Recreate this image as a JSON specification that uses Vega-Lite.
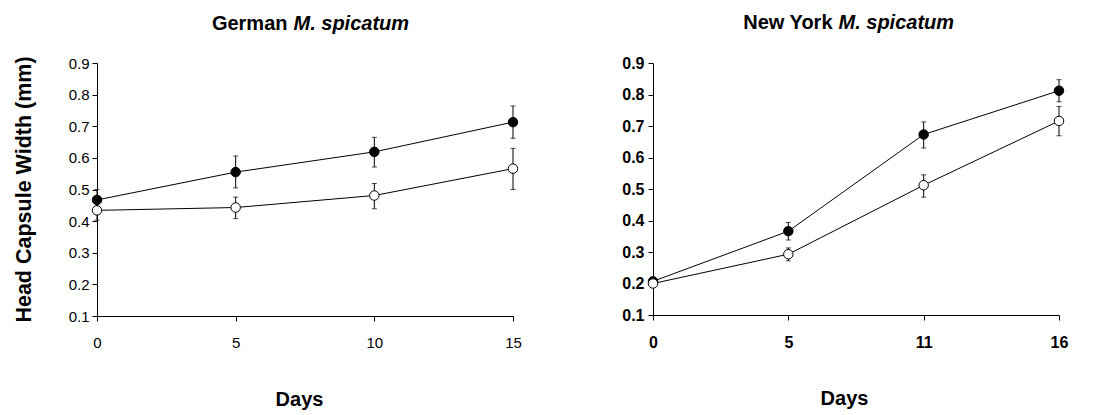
{
  "$schema": "https://vega.github.io/schema/vega-lite/v6.json",
  "padding": {"left": 12, "top": 12, "right": 5, "bottom": 5},
  "background": "white",
  "config": {
    "font": "Liberation Sans",
    "view": {"stroke": null},
    "axis": {
      "grid": false,
      "domainColor": "black",
      "tickColor": "black",
      "labelColor": "black",
      "titleColor": "black",
      "labelFont": "Liberation Sans",
      "titleFont": "Liberation Sans",
      "titleFontWeight": "bold",
      "tickSize": 5,
      "domainWidth": 1,
      "tickWidth": 1
    }
  },
  "datasets": {
    "german": [
      {"day": 0, "series": "Series 1", "mean": 0.467, "lo": 0.435, "hi": 0.500},
      {"day": 5, "series": "Series 1", "mean": 0.555, "lo": 0.505, "hi": 0.606},
      {"day": 10, "series": "Series 1", "mean": 0.619, "lo": 0.571, "hi": 0.665},
      {"day": 15, "series": "Series 1", "mean": 0.713, "lo": 0.662, "hi": 0.764},
      {"day": 0, "series": "Series 2", "mean": 0.434, "lo": 0.403, "hi": 0.465},
      {"day": 5, "series": "Series 2", "mean": 0.443, "lo": 0.408, "hi": 0.476},
      {"day": 10, "series": "Series 2", "mean": 0.481, "lo": 0.439, "hi": 0.519},
      {"day": 15, "series": "Series 2", "mean": 0.566, "lo": 0.500, "hi": 0.630}
    ],
    "newyork": [
      {"day": 0, "series": "Series 1", "mean": 0.207, "lo": 0.200, "hi": 0.214},
      {"day": 5, "series": "Series 1", "mean": 0.366, "lo": 0.338, "hi": 0.394},
      {"day": 11, "series": "Series 1", "mean": 0.673, "lo": 0.630, "hi": 0.713},
      {"day": 16, "series": "Series 1", "mean": 0.812, "lo": 0.777, "hi": 0.847},
      {"day": 0, "series": "Series 2", "mean": 0.200, "lo": 0.192, "hi": 0.208},
      {"day": 5, "series": "Series 2", "mean": 0.293, "lo": 0.272, "hi": 0.313},
      {"day": 11, "series": "Series 2", "mean": 0.512, "lo": 0.474, "hi": 0.545},
      {"day": 16, "series": "Series 2", "mean": 0.716, "lo": 0.669, "hi": 0.762}
    ]
  },
  "spacing": 140,
  "bounds": "flush",
  "hconcat": [
    {
      "width": 416,
      "height": 253,
      "data": {"name": "german"},
      "resolve": {"axis": {"x": "independent", "y": "independent"}},
      "layer": [
        {
          "mark": {"type": "line", "color": "black", "strokeWidth": 1},
          "encoding": {
            "x": {"field": "day", "type": "ordinal", "scale": {"type": "point", "padding": 0},
              "axis": {"orient": "bottom", "labelAngle": 0, "labelFontSize": 15, "labelPadding": 14, "title": "Days", "titleFontSize": 20, "titlePadding": 39, "titleX": 202}},
            "y": {"field": "mean", "type": "quantitative", "scale": {"domain": [0.1, 0.9], "nice": false, "zero": false},
              "axis": {"orient": "left", "values": [0.1, 0.2, 0.3, 0.4, 0.5, 0.6, 0.7, 0.8, 0.9], "format": ".1f", "labelFontSize": 15, "labelPadding": 3, "title": "Head Capsule Width (mm)", "titleFontSize": 21.5, "titleX": -73, "titleY": 126, "titleBaseline": "middle"}},
            "detail": {"field": "series"}
          }
        },
        {
          "mark": {"type": "errorbar", "color": "black", "ticks": {"size": 5, "color": "black"}, "rule": {"strokeWidth": 1}},
          "encoding": {
            "x": {"field": "day", "type": "ordinal", "axis": null},
            "y": {"field": "lo", "type": "quantitative", "axis": null},
            "y2": {"field": "hi"}
          }
        },
        {
          "transform": [{"filter": "datum.series === 'Series 1'"}],
          "mark": {"type": "circle", "fill": "black", "stroke": "black", "strokeWidth": 1, "size": 90, "opacity": 1},
          "encoding": {
            "x": {"field": "day", "type": "ordinal",
              "axis": {"orient": "top", "labels": false, "ticks": false, "domain": false, "title": "German", "titleFontSize": 20, "titleAlign": "right", "titleBaseline": "alphabetic", "titleX": 190, "titleY": -34}},
            "y": {"field": "mean", "type": "quantitative", "axis": null}
          }
        },
        {
          "transform": [{"filter": "datum.series === 'Series 2'"}],
          "mark": {"type": "circle", "fill": "white", "stroke": "black", "strokeWidth": 1, "size": 90, "opacity": 1},
          "encoding": {
            "x": {"field": "day", "type": "ordinal",
              "axis": {"orient": "top", "labels": false, "ticks": false, "domain": false, "title": "M. spicatum", "titleFontSize": 20, "titleFontStyle": "italic", "titleAlign": "left", "titleBaseline": "alphabetic", "titleX": 196, "titleY": -34}},
            "y": {"field": "mean", "type": "quantitative", "axis": null}
          }
        }
      ]
    },
    {
      "width": 406,
      "height": 252,
      "data": {"name": "newyork"},
      "resolve": {"axis": {"x": "independent", "y": "independent"}},
      "layer": [
        {
          "mark": {"type": "line", "color": "black", "strokeWidth": 1},
          "encoding": {
            "x": {"field": "day", "type": "ordinal", "scale": {"type": "point", "padding": 0},
              "axis": {"orient": "bottom", "labelAngle": 0, "labelFontSize": 16, "labelFontWeight": "bold", "labelPadding": 14, "title": "Days", "titleFontSize": 20, "titlePadding": 38, "titleX": 191}},
            "y": {"field": "mean", "type": "quantitative", "scale": {"domain": [0.1, 0.9], "nice": false, "zero": false},
              "axis": {"orient": "left", "values": [0.1, 0.2, 0.3, 0.4, 0.5, 0.6, 0.7, 0.8, 0.9], "format": ".1f", "labelFontSize": 16, "labelFontWeight": "bold", "labelPadding": 4, "title": null}},
            "detail": {"field": "series"}
          }
        },
        {
          "mark": {"type": "errorbar", "color": "black", "ticks": {"size": 5, "color": "black"}, "rule": {"strokeWidth": 1}},
          "encoding": {
            "x": {"field": "day", "type": "ordinal", "axis": null},
            "y": {"field": "lo", "type": "quantitative", "axis": null},
            "y2": {"field": "hi"}
          }
        },
        {
          "transform": [{"filter": "datum.series === 'Series 1'"}],
          "mark": {"type": "circle", "fill": "black", "stroke": "black", "strokeWidth": 1, "size": 90, "opacity": 1},
          "encoding": {
            "x": {"field": "day", "type": "ordinal",
              "axis": {"orient": "top", "labels": false, "ticks": false, "domain": false, "title": "New York", "titleFontSize": 20, "titleAlign": "right", "titleBaseline": "alphabetic", "titleX": 179, "titleY": -35}},
            "y": {"field": "mean", "type": "quantitative", "axis": null}
          }
        },
        {
          "transform": [{"filter": "datum.series === 'Series 2'"}],
          "mark": {"type": "circle", "fill": "white", "stroke": "black", "strokeWidth": 1, "size": 90, "opacity": 1},
          "encoding": {
            "x": {"field": "day", "type": "ordinal",
              "axis": {"orient": "top", "labels": false, "ticks": false, "domain": false, "title": "M. spicatum", "titleFontSize": 20, "titleFontStyle": "italic", "titleAlign": "left", "titleBaseline": "alphabetic", "titleX": 185, "titleY": -35}},
            "y": {"field": "mean", "type": "quantitative", "axis": null}
          }
        }
      ]
    }
  ]
}
